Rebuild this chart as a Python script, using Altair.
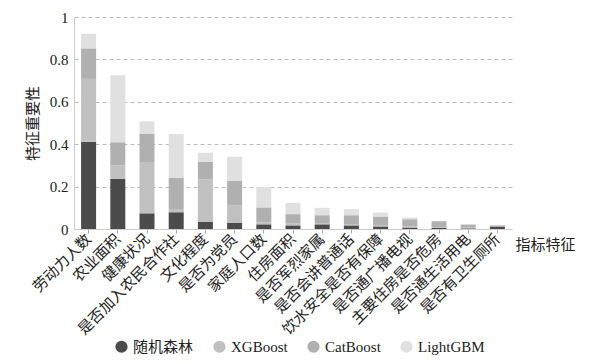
import altair as alt
import pandas as pd

features = ["劳动力人数", "农业面积", "健康状况", "是否加入农民合作社", "文化程度", "是否为党员",
            "家庭人口数", "住房面积", "是否军烈家属", "是否会讲普通话", "饮水安全是否有保障",
            "是否通广播电视", "主要住房是否危房", "是否通生活用电", "是否有卫生厕所"]
models = ["随机森林", "XGBoost", "CatBoost", "LightGBM"]
rf   = [0.412, 0.237, 0.074, 0.079, 0.033, 0.030, 0.022, 0.017, 0.022, 0.017, 0.012, 0.007, 0.005, 0.003, 0.012]
xgb  = [0.296, 0.063, 0.242, 0.015, 0.201, 0.080, 0.009, 0.010, 0.006, 0.006, 0.007, 0.006, 0.004, 0.004, 0.002]
cat  = [0.144, 0.109, 0.134, 0.148, 0.082, 0.118, 0.071, 0.043, 0.037, 0.042, 0.040, 0.033, 0.028, 0.014, 0.003]
lgbm = [0.069, 0.316, 0.058, 0.206, 0.044, 0.113, 0.096, 0.053, 0.035, 0.029, 0.019, 0.008, 0.002, 0.001, 0.001]
colors = ["#4b4b4b", "#c0c0c0", "#b0b0b0", "#e0e0e0"]

rows = []
for m_i, (m, vals) in enumerate(zip(models, [rf, xgb, cat, lgbm])):
    for f, v in zip(features, vals):
        rows.append({"feature": f, "model": m, "value": v, "ord": m_i})
df = pd.DataFrame(rows)

FONT = "Liberation Serif, Noto Sans CJK SC"

chart = alt.Chart(df).mark_bar(size=15).encode(
    x=alt.X("feature:N", sort=features,
            scale=alt.Scale(paddingInner=0.5, paddingOuter=0.25),
            axis=alt.Axis(title="指标特征", labelAngle=-45, labelAlign="right", labelBaseline="middle",
                          labelFontSize=15, labelColor="#222", labelFont=FONT,
                          titleFont=FONT, titleFontSize=15, titleFontWeight="normal", titleColor="#222",
                          titleAlign="left", titleAnchor="end", titleX=441, titleY=8,
                          domainColor="#cccccc", tickColor="#aaaaaa", tickSize=4, labelPadding=3)),
    y=alt.Y("value:Q", stack="zero",
            scale=alt.Scale(domain=[0, 1]),
            axis=alt.Axis(title="特征重要性", values=[0, 0.2, 0.4, 0.6, 0.8, 1],
                          labelExpr="datum.value == 0 ? '0' : datum.value == 1 ? '1' : format(datum.value, '.1f')",
                          labelFontSize=15, labelColor="#222", labelFont=FONT,
                          titleFont=FONT, titleFontSize=15, titleFontWeight="normal", titleColor="#222",
                          titlePadding=9,
                          grid=True, gridDash=[4, 3], gridColor="#bbbbbb",
                          domainColor="#cccccc", ticks=False, labelPadding=6)),
    color=alt.Color("model:N", sort=models,
                    scale=alt.Scale(domain=models, range=colors),
                    legend=alt.Legend(title=None, orient="none", direction="horizontal",
                                      legendX=40, legendY=322, symbolType="circle", symbolSize=150,
                                      symbolStrokeWidth=0, labelFont=FONT, labelFontSize=15,
                                      labelColor="#222", columnPadding=18)),
    order=alt.Order("ord:Q", sort="ascending"),
).properties(
    width=438, height=212,
    autosize=alt.AutoSizeParams(type="none"),
    padding={"left": 66, "top": 9, "right": 70, "bottom": 132},
).configure_view(stroke=None)

chart.save("out.html", embed_options={"renderer": "svg", "actions": False})
